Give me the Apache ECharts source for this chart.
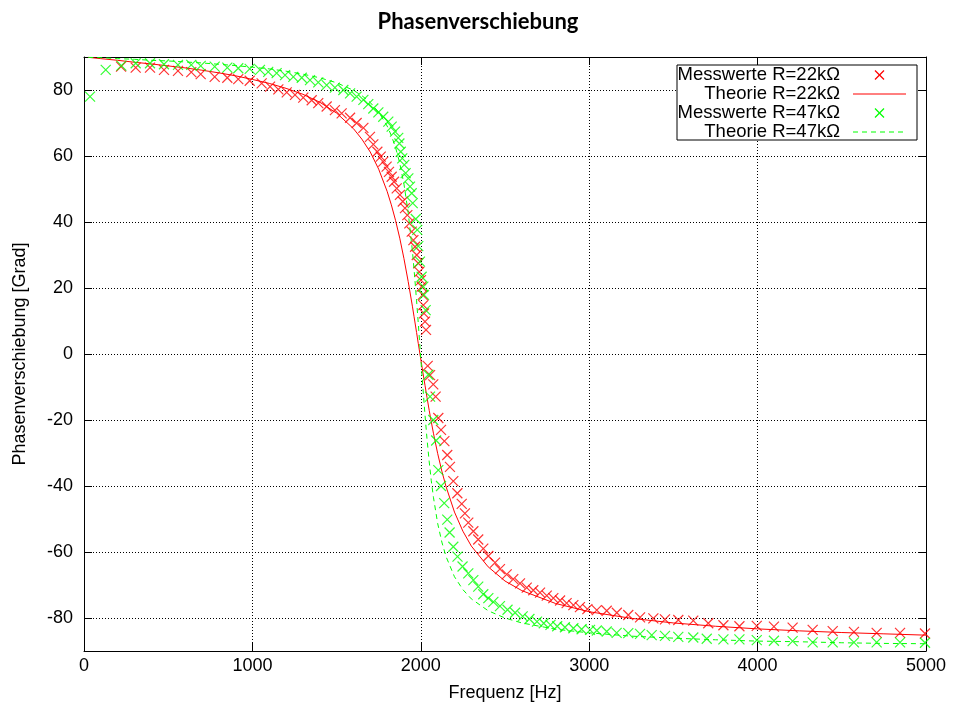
<!DOCTYPE html>
<html>
<head>
<meta charset="utf-8">
<script src="https://cdn.jsdelivr.net/npm/echarts@6/dist/echarts.min.js"></script>
<style>
  html, body { margin: 0; padding: 0; background: #ffffff; }
  #chart { width: 956px; height: 713px; }
</style>
</head>
<body>
<div id="chart"></div>
<script>
// Axis ticks
const xTicks = [0, 1000, 2000, 3000, 4000, 5000];
const yTicks = [-80, -60, -40, -20, 0, 20, 40, 60, 80];

// Measured phase, R = 22 kOhm
const freq22 = [220,307,392,475,558,637,693,776,851,916,
  984,1055,1105,1154,1204,1253,1302,1352,1391,1441,
  1490,1530,1580,1619,1659,1698,1718,1742,1762,1777,
  1797,1811,1827,1841,1857,1876,1893,1906,1920,1932,
  1946,1956,1966,1976,1985,1991,2001,2005,2011,2015,
  2019,2025,2031,2041,2055,2074,2088,2104,2120,2140,
  2157,2173,2193,2217,2243,2262,2282,2312,2341,2371,
  2401,2441,2470,2510,2549,2589,2629,2668,2708,2748,
  2787,2827,2866,2906,2945,2989,3045,3104,3164,3232,
  3302,3381,3450,3529,3618,3707,3797,3892,3995,4097,
  4208,4327,4446,4572,4707,4846,4994];
const phase22 = [87.1,86.8,86.8,86.1,85.8,85.4,84.8,84.0,83.7,83.3,
  82.8,82.0,81.0,80.2,79.3,78.5,77.7,76.9,76.0,75.0,
  73.9,72.9,71.6,70.0,68.5,65.8,63.5,61.3,59.8,58.3,
  56.8,55.2,53.7,52.2,50.2,48.2,46.2,44.2,42.1,39.6,
  37.1,34.5,32.5,30.0,27.5,24.9,22.4,20.4,17.9,14.8,
  12.3,9.8,7.3,-3.6,-6.4,-9.2,-12.9,-19.4,-23.0,-26.4,
  -30.6,-34.2,-38.5,-42.2,-45.4,-48.3,-51.1,-53.7,-56.2,-59.0,
  -61.2,-63.2,-65.2,-66.8,-68.2,-69.5,-70.8,-71.6,-72.3,-73.2,
  -74.0,-74.7,-75.5,-76.1,-76.7,-77.3,-77.6,-77.8,-78.4,-79.1,
  -79.8,-80.1,-80.4,-80.6,-80.8,-81.6,-82.2,-82.5,-82.4,-82.6,
  -82.9,-83.6,-84.0,-84.2,-84.5,-84.5,-84.7];

// Measured phase, R = 47 kOhm
const freq47 = [36,129,222,307,392,475,558,637,693,776,
  851,916,984,1045,1094,1144,1194,1243,1293,1342,
  1391,1441,1490,1540,1580,1619,1659,1688,1718,1748,
  1777,1807,1827,1847,1866,1873,1881,1890,1902,1910,
  1926,1936,1946,1952,1970,1979,1985,1995,2005,2015,
  2019,2029,2045,2055,2074,2091,2104,2120,2139,2157,
  2171,2193,2218,2248,2282,2312,2341,2371,2401,2431,
  2470,2515,2560,2605,2645,2690,2730,2770,2810,2856,
  2906,2955,3005,3045,3104,3163,3232,3302,3371,3450,
  3529,3618,3698,3797,3892,3995,4097,4208,4327,4446,
  4572,4707,4846,4994];
const phase47 = [78.0,86.1,87.4,88.1,88.1,87.8,87.6,87.6,87.3,87.1,
  86.8,86.6,86.4,86.1,85.5,85.1,84.5,84.0,83.7,83.0,
  82.3,81.5,80.7,80.0,79.0,78.0,77.0,75.7,74.4,73.2,
  71.9,70.4,68.9,67.4,65.5,63.8,61.3,59.3,57.3,54.8,
  53.2,50.7,48.7,45.7,40.9,37.6,32.7,28.0,23.4,20.4,
  17.9,13.3,-6.3,-12.9,-20.0,-26.2,-35.2,-40.0,-45.2,-50.2,
  -54.1,-58.4,-61.4,-64.4,-66.5,-68.5,-70.5,-72.8,-74.0,-75.1,
  -76.4,-77.5,-78.4,-79.5,-80.3,-81.1,-81.6,-82.1,-82.5,-82.8,
  -83.1,-83.4,-83.6,-83.8,-84.1,-84.5,-84.6,-84.8,-85.2,-85.4,
  -85.7,-85.9,-86.3,-86.5,-86.5,-86.7,-86.9,-87.0,-87.4,-87.4,
  -87.4,-87.4,-87.4,-87.5];

// Theoretical curves, sampled at shared frequencies
const freqTheory = [25,100,200,300,400,500,600,700,800,900,
  1000,1100,1200,1300,1400,1500,1600,1650,1700,1750,
  1800,1825,1850,1875,1900,1925,1950,1960,1975,1985,
  1995,2005,2012,2025,2037,2050,2062,2075,2100,2125,
  2150,2200,2250,2300,2400,2500,2600,2800,3000,3250,
  3500,3750,4000,4250,4500,4750,5000];
const theory22 = [89.9,89.5,89.0,88.4,87.9,87.3,86.7,86.0,85.2,84.3,
  83.2,82.0,80.5,78.7,76.3,73.0,68.3,65.1,61.2,56.0,
  49.3,45.2,40.5,35.1,28.9,22.0,14.5,11.3,6.5,3.2,
  0,-3.2,-5.5,-9.5,-13.2,-17.1,-20.5,-24.0,-30.1,-35.5,
  -40.2,-47.9,-53.7,-58.2,-64.5,-68.8,-71.7,-75.6,-78.1,-80.1,
  -81.5,-82.5,-83.3,-83.9,-84.4,-84.8,-85.2];
const theory47 = [89.9,89.8,89.5,89.3,89.0,88.8,88.5,88.2,87.8,87.4,
  86.9,86.4,85.7,84.8,83.7,82.2,79.9,78.3,76.2,73.3,
  69.1,66.2,62.6,57.8,51.5,42.9,31.3,25.6,16.1,9.3,
  2.1,-5.0,-9.9,-18.5,-25.8,-32.7,-38.3,-43.4,-51.3,-57.0,
  -61.4,-67.5,-71.4,-74.2,-77.8,-80.0,-81.5,-83.4,-84.5,-85.5,
  -86.1,-86.6,-87.0,-87.2,-87.5,-87.7,-87.8];

const seriesNames = ['Messwerte R=22k\u03A9', 'Theorie R=22k\u03A9', 'Messwerte R=47k\u03A9', 'Theorie R=47k\u03A9'];

const RED = '#ff0000';
const GREEN = '#00ff00';
const FONT = '"Liberation Sans", Arial, Helvetica, sans-serif';
const CROSS = 'path://M0,0L10,10M10,0L0,10';

function pairs(xs, ys) { return xs.map((x, i) => [x, ys[i]]); }

const chart = echarts.init(document.getElementById('chart'), null, { renderer: 'canvas' });

const mirrorTick = { show: true, inside: true, length: 8, lineStyle: { color: '#000', width: 1 } };
const frameLine = { show: true, onZero: false, lineStyle: { color: '#000', width: 1 } };
const gridDots = { show: true, lineStyle: { color: '#000', width: 1, type: [1, 2] } };

// boxed key: text right-aligned, sample to the right of it
const keyRows = [
  { y: 75, kind: 'cross', color: RED },
  { y: 94, kind: 'line', color: RED },
  { y: 113, kind: 'cross', color: GREEN },
  { y: 132, kind: 'dash', color: GREEN }
];
const keyGraphics = [{
  type: 'rect', z: 100,
  shape: { x: 677, y: 65, width: 240, height: 75 },
  style: { fill: '#fff', stroke: '#000', lineWidth: 1 }
}];
keyRows.forEach((row, i) => {
  keyGraphics.push({
    type: 'text', z: 101, x: 840, y: row.y,
    style: { text: seriesNames[i], fill: '#000', fontSize: 18.5, fontFamily: FONT, align: 'right', verticalAlign: 'middle' }
  });
  if (row.kind === 'cross') {
    keyGraphics.push({ type: 'line', z: 101, shape: { x1: 875, y1: row.y - 4.5, x2: 884, y2: row.y + 4.5 }, style: { stroke: row.color, lineWidth: 1.2 } });
    keyGraphics.push({ type: 'line', z: 101, shape: { x1: 875, y1: row.y + 4.5, x2: 884, y2: row.y - 4.5 }, style: { stroke: row.color, lineWidth: 1.2 } });
  } else {
    keyGraphics.push({ type: 'line', z: 101, shape: { x1: 853, y1: row.y, x2: 906, y2: row.y },
      style: { stroke: row.color, lineWidth: 1, lineDash: row.kind === 'dash' ? [5, 4] : null } });
  }
});

const plainNumber = v => String(v);

const option = {
  animation: false,
  backgroundColor: '#ffffff',
  title: {
    text: 'Phasenverschiebung',
    left: 'center',
    top: 6,
    textStyle: { fontFamily: 'Lato, "Liberation Sans", sans-serif', fontWeight: 'bold', fontSize: 22, color: '#000' }
  },
  grid: { left: 84, right: 30, top: 57, bottom: 62, containLabel: false },
  xAxis: [{
    type: 'value', position: 'bottom', min: 0, max: 5000, interval: 1000,
    name: 'Frequenz [Hz]', nameLocation: 'middle', nameGap: 33,
    nameTextStyle: { fontFamily: FONT, fontSize: 18, color: '#000' },
    axisLine: frameLine, axisTick: mirrorTick,
    axisLabel: { show: true, margin: 6, fontFamily: FONT, fontSize: 18, color: '#000', formatter: plainNumber },
    splitLine: gridDots
  }, {
    type: 'value', position: 'top', min: 0, max: 5000, interval: 1000,
    axisLine: frameLine, axisTick: mirrorTick, axisLabel: { show: false }, splitLine: { show: false }
  }],
  yAxis: [{
    type: 'value', position: 'left', min: -90, max: 90,
    name: 'Phasenverschiebung [Grad]', nameLocation: 'middle', nameGap: 55,
    nameTextStyle: { fontFamily: FONT, fontSize: 18, color: '#000' },
    axisLine: frameLine,
    axisTick: Object.assign({ customValues: yTicks }, mirrorTick),
    axisLabel: { show: true, customValues: yTicks, margin: 11, fontFamily: FONT, fontSize: 18, color: '#000', formatter: plainNumber },
    splitLine: gridDots
  }, {
    type: 'value', position: 'right', min: -90, max: 90,
    axisLine: frameLine,
    axisTick: Object.assign({ customValues: yTicks }, mirrorTick),
    axisLabel: { show: false, customValues: yTicks }, splitLine: { show: false }
  }],
  graphic: keyGraphics,
  series: [{
    name: seriesNames[0], type: 'scatter', xAxisIndex: 0, yAxisIndex: 0,
    symbol: CROSS, symbolSize: 10,
    itemStyle: { color: 'rgba(0,0,0,0)', borderColor: RED, borderWidth: 1.2 },
    data: pairs(freq22, phase22), z: 2
  }, {
    name: seriesNames[1], type: 'line', xAxisIndex: 0, yAxisIndex: 0,
    showSymbol: false, smooth: false,
    lineStyle: { color: RED, width: 1 },
    data: pairs(freqTheory, theory22), z: 3
  }, {
    name: seriesNames[2], type: 'scatter', xAxisIndex: 0, yAxisIndex: 0,
    symbol: CROSS, symbolSize: 10,
    itemStyle: { color: 'rgba(0,0,0,0)', borderColor: GREEN, borderWidth: 1.2 },
    data: pairs(freq47, phase47), z: 4
  }, {
    name: seriesNames[3], type: 'line', xAxisIndex: 0, yAxisIndex: 0,
    showSymbol: false, smooth: false,
    lineStyle: { color: GREEN, width: 1, type: [5, 4] },
    data: pairs(freqTheory, theory47), z: 5
  }]
};

chart.setOption(option);
</script>
</body>
</html>
